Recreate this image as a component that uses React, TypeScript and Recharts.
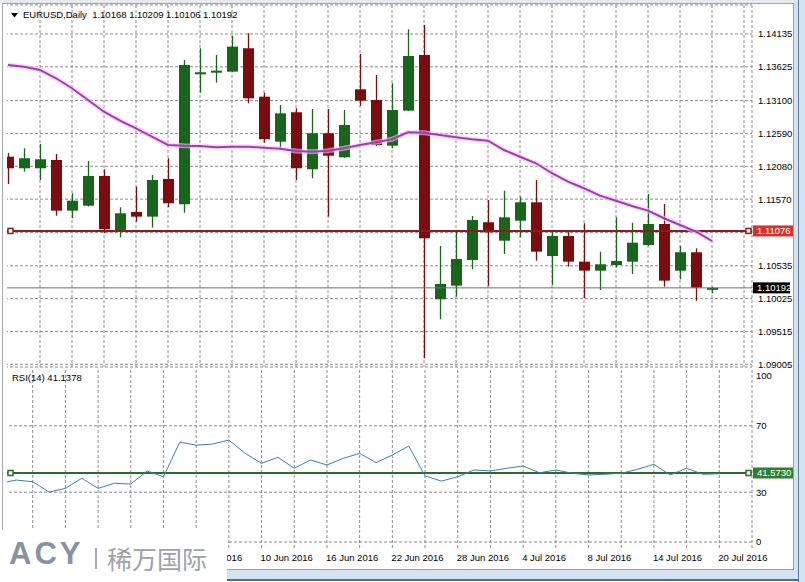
import React from 'react';
import { ComposedChart, LineChart, Bar, Line, XAxis, YAxis, CartesianGrid, ReferenceLine } from 'recharts';

const dates = ['19 May 2016','20 May 2016','23 May 2016','24 May 2016','25 May 2016','26 May 2016','27 May 2016','30 May 2016','31 May 2016','1 Jun 2016','2 Jun 2016','3 Jun 2016','6 Jun 2016','7 Jun 2016','8 Jun 2016','9 Jun 2016','10 Jun 2016','13 Jun 2016','14 Jun 2016','15 Jun 2016','16 Jun 2016','17 Jun 2016','20 Jun 2016','21 Jun 2016','22 Jun 2016','23 Jun 2016','24 Jun 2016','27 Jun 2016','28 Jun 2016','29 Jun 2016','30 Jun 2016','1 Jul 2016','4 Jul 2016','5 Jul 2016','6 Jul 2016','7 Jul 2016','8 Jul 2016','11 Jul 2016','12 Jul 2016','13 Jul 2016','14 Jul 2016','15 Jul 2016','18 Jul 2016','19 Jul 2016','20 Jul 2016'];

const opens = [1.12229,1.12049,1.12049,1.12178,1.11391,1.11468,1.11930,1.11091,1.11371,1.11298,1.11883,1.11490,1.13525,1.13534,1.13550,1.13913,1.13161,1.12462,1.12919,1.12034,1.12593,1.12220,1.13276,1.13110,1.12400,1.12944,1.13809,1.10015,1.10226,1.10625,1.11211,1.10925,1.11235,1.11521,1.10687,1.10998,1.10599,1.10459,1.10547,1.10599,1.10858,1.11184,1.10459,1.10745,1.10168];
const highs = [1.12287,1.12360,1.12427,1.12271,1.11661,1.12163,1.12034,1.11444,1.11763,1.11945,1.12205,1.13731,1.13913,1.13809,1.14104,1.14146,1.13223,1.13032,1.12981,1.12970,1.12970,1.12955,1.13824,1.13498,1.13369,1.14208,1.14275,1.10842,1.11060,1.11308,1.11557,1.11701,1.11608,1.11867,1.11075,1.11091,1.11195,1.10754,1.11288,1.11204,1.11650,1.11495,1.10842,1.10807,1.10209];
const lows = [1.11805,1.11996,1.11867,1.11313,1.11273,1.11456,1.11044,1.10978,1.11220,1.11127,1.11448,1.11360,1.13223,1.13379,1.13545,1.13059,1.12447,1.12333,1.11867,1.11894,1.11298,1.12209,1.13017,1.12396,1.12360,1.12939,1.09098,1.09704,1.10055,1.10481,1.10221,1.10718,1.10978,1.10614,1.10237,1.10521,1.10030,1.10159,1.10512,1.10408,1.10842,1.10210,1.10325,1.09993,1.10106];
const closes = [1.12049,1.12205,1.12189,1.11391,1.11546,1.11930,1.11102,1.11350,1.11298,1.11867,1.11506,1.13654,1.13540,1.13565,1.13938,1.13136,1.12500,1.12903,1.12049,1.12593,1.12245,1.12722,1.13099,1.12411,1.12955,1.13793,1.10962,1.10252,1.10641,1.11246,1.11055,1.11288,1.11521,1.10754,1.10998,1.10599,1.10459,1.10558,1.10610,1.10894,1.11184,1.10304,1.10745,1.10195,1.10192];
const maValues = [1.13654,1.13627,1.13576,1.13447,1.13292,1.13110,1.12928,1.12789,1.12670,1.12540,1.12411,1.12400,1.12396,1.12375,1.12385,1.12385,1.12369,1.12354,1.12318,1.12307,1.12323,1.12360,1.12411,1.12453,1.12500,1.12608,1.12602,1.12566,1.12531,1.12500,1.12478,1.12333,1.12229,1.12127,1.11972,1.11841,1.11739,1.11624,1.11546,1.11464,1.11391,1.11273,1.11169,1.11065,1.10920];
const rsiValues = [35.4,37.3,36.3,30.1,32.3,38.4,32.3,35.4,34.9,42.8,39.3,60.2,58.3,59.0,61.4,53.4,47.4,51.0,44.4,49.4,46.4,50.4,53.4,47.8,52.4,57.8,39.8,36.7,39.3,43.4,42.8,44.4,45.8,41.7,43.4,41.4,40.4,40.8,41.4,43.8,46.8,40.4,44.4,40.8,41.14];

const priceTicks = [1.09005,1.09515,1.10025,1.10535,1.11050,1.11570,1.12080,1.12590,1.13100,1.13625,1.14135];
const rsiTicks = [0,30,70,100];
const rsiLevels = [70,30,0];
const EMPTY_SLOTS = 2;
const hLine = 1.11076;
const bidPrice = 1.10192;
const rsiLine = 41.573;
const headerText = 'EURUSD,Daily  1.10168 1.10209 1.10106 1.10192';
const rsiText = 'RSI(14) 41.1378';
const FIRST_VISIBLE_LABEL = 12; // earlier labels lie fully under the logo box

const rows = Array.from({ length: dates.length + EMPTY_SLOTS }, (_, i) =>
  i < dates.length
    ? { i, date: dates[i], open: opens[i], high: highs[i], low: lows[i], close: closes[i], range: [lows[i], highs[i]], ma: maValues[i], rsi: rsiValues[i] }
    : { i, date: '', open: null, high: null, low: null, close: null, range: null, ma: null, rsi: null }
);
const gridTicks = rows.map(r => r.i).filter(i => i > 0 && i % 2 === 0);

const FONT = '"Liberation Sans", Arial, sans-serif';
const BULL = '#17661a';
const BEAR = '#7a0d0d';
const GRID = '#8a8a8a';

const Candle = (props: any) => {
  const { x, y, width, height, payload } = props;
  if (!payload || payload.open == null) return null;
  const { open, close, high, low } = payload;
  const h = Math.abs(height);
  const top = Math.min(y, y + height);
  const ratio = high > low ? h / (high - low) : 0;
  const yO = top + (high - open) * ratio;
  const yC = top + (high - close) * ratio;
  const color = close >= open ? BULL : BEAR;
  const cx = x + width / 2;
  const bTop = Math.min(yO, yC);
  const bH = Math.max(2, Math.abs(yO - yC));
  return (
    <g>
      <line x1={cx} x2={cx} y1={top} y2={top + h} stroke={color} strokeWidth={1.3} />
      <rect x={x} y={bTop} width={width} height={bH} fill={color} />
    </g>
  );
};

const Tag = (props: any) => {
  const vb = props.viewBox || {};
  const { x = 0, y = 0, width = 0 } = vb;
  const { text, bg, color, markers, tagW } = props;
  const right = x + width;
  return (
    <g>
      {markers && (
        <>
          <rect x={x + 8} y={y - 2.5} width={5} height={5} fill="#fff" stroke={color} strokeWidth={1.5} />
          <rect x={right - 6} y={y - 2.5} width={5} height={5} fill="#fff" stroke={color} strokeWidth={1.5} />
        </>
      )}
      <rect x={right + 1} y={y - 5.5} width={tagW} height={11} fill={bg} />
      <text x={right + 5} y={y + 3.5} fill="#fff" fontSize={9.5} fontFamily={FONT}>{text}</text>
    </g>
  );
};

const PriceTick = (props: any) => {
  const { x, y, payload } = props;
  const v = payload.value;
  // the red line's price tag covers this label, as in the terminal
  if (Math.abs(v - hLine) < 0.0006) return null;
  return (
    <text x={x} y={y + 3.5} fontSize={9.5} fontFamily={FONT} fill="#000" textAnchor="start">{v.toFixed(5)}</text>
  );
};

const DateTick = (props: any) => {
  const { x, y, payload } = props;
  const i = payload.value;
  if (i % 4 !== 0 || !dates[i] || i < FIRST_VISIBLE_LABEL) return null;
  return (
    <text x={x - 1} y={y + 13} fontSize={9.5} fontFamily={FONT} fill="#000" textAnchor="start">{dates[i]}</text>
  );
};

export default function App() {
  return (
    <div style={{ position: 'absolute', left: 0, top: 0, width: 805, height: 582, background: '#fff', overflow: 'hidden', fontFamily: FONT }}>
      <div style={{ position: 'absolute', left: 0, top: 0 }}>
        <ComposedChart width={805} height={376} data={rows} margin={{ top: 5, right: 0, bottom: 9, left: 0 }}>
          <CartesianGrid stroke={GRID} strokeDasharray="3 2" />
          <XAxis dataKey="i" type="category" hide ticks={gridTicks} interval={0} />
          <YAxis orientation="right" width={53} domain={[1.08963, 1.14585]} ticks={priceTicks} interval={0}
            axisLine={false} tickLine={false} tickSize={0} tickMargin={6} allowDataOverflow
            tick={<PriceTick />} />
          <ReferenceLine y={bidPrice} stroke="#6c6c80" strokeWidth={1}
            label={<Tag text={bidPrice.toFixed(5)} bg="#000" color="#000" tagW={37} />} />
          <ReferenceLine y={hLine} stroke="#8e1b1b" strokeWidth={2}
            label={<Tag text={hLine.toFixed(5)} bg="#d9302c" color="#8e1b1b" markers tagW={40} />} />
          <Bar dataKey="range" barSize={11} shape={<Candle />} isAnimationActive={false} />
          <Line type="linear" dataKey="ma" stroke="#f2c6f4" strokeWidth={5} strokeOpacity={0.6} dot={false} isAnimationActive={false} />
          <Line type="linear" dataKey="ma" stroke="#a63ab6" strokeWidth={2} dot={false} isAnimationActive={false} />
        </ComposedChart>
      </div>
      <div style={{ position: 'absolute', left: 0, top: 367 }}>
        <LineChart width={805} height={215} data={rows} margin={{ top: 3, right: 0, bottom: 0, left: 0 }}>
          <CartesianGrid stroke={GRID} strokeDasharray="3 2" horizontal={false} />
          <XAxis dataKey="i" type="category" ticks={gridTicks} interval={0} height={34} axisLine={false} tickLine={false}
            tickSize={0} tickMargin={0} tick={<DateTick />} />
          <YAxis orientation="right" width={53} domain={[-3.6, 103.6]} ticks={rsiTicks} interval={0} allowDataOverflow
            axisLine={false} tickLine={false} tickSize={0} tickMargin={4}
            tick={{ fontSize: 9.5, fontFamily: FONT, fill: '#000' }} />
          {rsiLevels.map(v => (
            <ReferenceLine key={v} y={v} stroke={GRID} strokeDasharray="3 2" />
          ))}
          <ReferenceLine y={rsiLine} stroke="#2d6a2d" strokeWidth={2}
            label={<Tag text={rsiLine.toFixed(4)} bg="#2f7f2f" color="#2d6a2d" markers tagW={40} />} />
          <Line type="linear" dataKey="rsi" stroke="#3d7fa6" strokeWidth={1} dot={false} isAnimationActive={false} />
        </LineChart>
      </div>

      {/* header texts */}
      <svg style={{ position: 'absolute', left: 11, top: 13 }} width={8} height={6}>
        <polygon points="0,0 7,0 3.5,4.5" fill="#000" />
      </svg>
      <div style={{ position: 'absolute', left: 23, top: 9, fontSize: 9.5, lineHeight: '12px', color: '#000', whiteSpace: 'pre' }}>{headerText}</div>
      <div style={{ position: 'absolute', left: 12, top: 372, fontSize: 9.5, lineHeight: '12px', color: '#000', whiteSpace: 'pre' }}>{rsiText}</div>

      {/* window frame */}
      <div style={{ position: 'absolute', left: 0, top: 0, width: 7, height: 582, background: '#fff' }} />
      <div style={{ position: 'absolute', left: 2, top: 3, width: 1, height: 567, background: '#a8a8a8' }} />
      <div style={{ position: 'absolute', left: 0, top: 0, width: 805, height: 3, background: '#e6eaef' }} />
      <div style={{ position: 'absolute', left: 2, top: 3, width: 792, height: 1, background: '#a0a0a0' }} />
      <div style={{ position: 'absolute', left: 793, top: 3, width: 1, height: 567, background: '#a0a0a0' }} />
      <div style={{ position: 'absolute', left: 794, top: 0, width: 11, height: 582, background: '#d3e3f2' }} />
      <div style={{ position: 'absolute', left: 798, top: 0, width: 1, height: 582, background: '#5d7d9d' }} />
      <div style={{ position: 'absolute', left: 2, top: 569, width: 792, height: 1, background: '#a0a0a0' }} />
      <div style={{ position: 'absolute', left: 0, top: 570, width: 798, height: 10, background: '#d3e3f2' }} />
      <div style={{ position: 'absolute', left: 0, top: 579, width: 799, height: 2, background: '#4f6f8f' }} />

      {/* logo */}
      <div style={{ position: 'absolute', left: 0, top: 530, width: 227, height: 52, background: '#fff' }}>
        <div style={{ position: 'absolute', left: 9, top: 7, fontSize: 31, fontWeight: 900, letterSpacing: 3, color: '#8693a5', lineHeight: '34px', fontFamily: '"Liberation Sans", Arial, sans-serif' }}>ACY</div>
        <div style={{ position: 'absolute', left: 95, top: 18, width: 2, height: 21, background: '#a3a9b1' }} />
        <div style={{ position: 'absolute', left: 107, top: 13, fontSize: 25, color: '#9da2a9', lineHeight: '30px', fontFamily: '"Noto Sans CJK SC", sans-serif' }}>稀万国际</div>
      </div>
    </div>
  );
}
